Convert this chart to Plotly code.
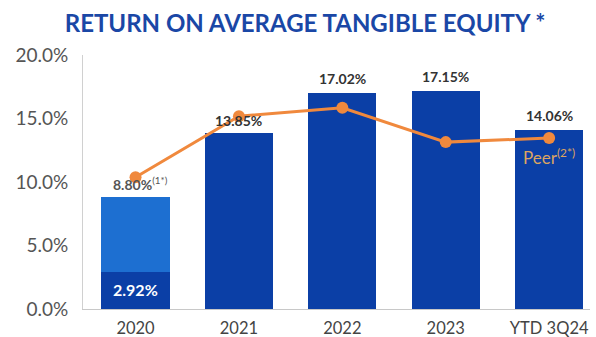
import plotly.graph_objects as go

categories = ["2020", "2021", "2022", "2023", "YTD 3Q24"]
rote_total = [8.80, 13.85, 17.02, 17.15, 14.06]
rote_2020_base = 2.92
peer_rote = [10.37, 15.18, 15.84, 13.14, 13.46]
total_labels = ["<b>8.80%</b><sup>(1*)</sup>", "<b>13.85%</b>", "<b>17.02%</b>",
                "<b>17.15%</b>", "<b>14.06%</b>"]
y_ticks = [0, 5, 10, 15, 20]

dark_blue = "#0b3fa6"
light_blue = "#1d6fd1"
orange = "#f0893d"

xpos = list(range(len(categories)))
dark_vals = [rote_2020_base] + rote_total[1:]
light_vals = [rote_total[0] - rote_2020_base] + [0] * (len(categories) - 1)

fig = go.Figure()
fig.add_trace(go.Bar(x=xpos, y=dark_vals, marker_color=dark_blue,
                     width=0.66, marker_line_width=0, hoverinfo="skip"))
fig.add_trace(go.Bar(x=xpos, y=light_vals, marker_color=light_blue,
                     width=0.66, marker_line_width=0, hoverinfo="skip"))
fig.add_trace(go.Scatter(x=xpos, y=peer_rote, mode="lines+markers",
                         line=dict(color=orange, width=3),
                         marker=dict(color=orange, size=12)))

for i, (val, lab) in enumerate(zip(rote_total, total_labels)):
    fig.add_annotation(x=i, y=val, text=lab, showarrow=False, yanchor="bottom",
                       yshift=2 if i < 2 else 4,
                       font=dict(family="Lato", size=14,
                                 color="#555555" if i == 0 else "#333333"),
                       xshift=5 if i == 0 else 0)

fig.add_annotation(x=0, y=rote_2020_base, text="<b>2.92%</b>", showarrow=False,
                   yanchor="top", yshift=-6, font=dict(family="Lato", size=16, color="white"))

fig.add_annotation(x=4, y=peer_rote[4], text="Peer<sup>(2*)</sup>", showarrow=False,
                   yanchor="top", yshift=-5, xshift=0,
                   font=dict(family="Lato", size=17, color="#dba462"))

fig.update_layout(
    width=596, height=337,
    margin=dict(l=83, r=6, t=54.5, b=28),
    paper_bgcolor="white", plot_bgcolor="white",
    barmode="stack", showlegend=False,
    title=dict(text="<b>RETURN ON AVERAGE TANGIBLE EQUITY *</b>", x=0.512, xanchor="center",
               y=0.93, yanchor="middle",
               font=dict(family="Lato", size=24, color="#1a47a6")),
    font=dict(family="Lato", color="#555555"),
)
fig.update_yaxes(range=[0, 20], tickvals=y_ticks, automargin=False,
                 ticktext=[f"{v:.1f}%" for v in y_ticks],
                 showgrid=False, zeroline=False, showline=True,
                 linecolor="#d0d0d0", linewidth=1, ticks="", ticklabelstandoff=10,
                 tickfont=dict(family="Lato", size=19, color="#555555"))
fig.update_xaxes(range=[-0.508, 4.395], tickvals=xpos, ticktext=categories, automargin=False,
                 showgrid=False, zeroline=False, showline=True, linecolor="#c8c8c8",
                 linewidth=1, ticks="", ticklabelstandoff=4,
                 tickfont=dict(family="Lato", size=16.5, color="#444444"))

fig.write_html("out.html")
